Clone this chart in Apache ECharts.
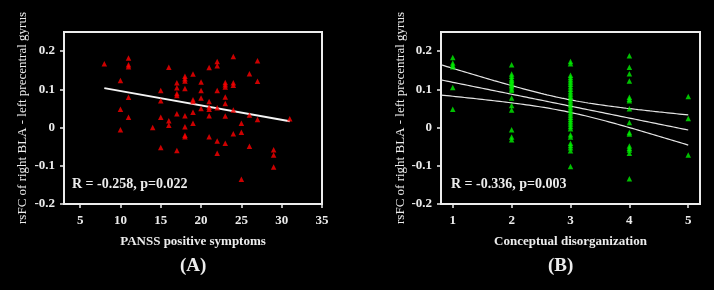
<!DOCTYPE html>
<html>
<head>
<meta charset="utf-8">
<script src="https://cdn.jsdelivr.net/npm/echarts@6/dist/echarts.min.js"></script>
<style>
  html, body { margin: 0; background: #000; }
  #chart { width: 714px; height: 290px; }
</style>
</head>
<body>
<div id="chart"></div>
<script>
// panel A: PANSS positive score vs rsFC
const panssPoints = [
  [8, 0.167], [11, 0.182], [11, 0.164], [11, 0.159], [10, 0.123], [11, 0.079], [10, 0.048], [11, 0.027], [10, -0.006],
  [14, 0.0], [15, 0.097], [15, 0.070], [15, 0.027], [15, -0.052], [16, 0.158], [16, 0.018], [16, 0.006],
  [17, 0.117], [17, 0.104], [17, 0.089], [17, 0.084], [17, 0.036], [17, -0.060],
  [18, 0.134], [18, 0.128], [18, 0.122], [18, 0.102], [18, 0.031], [18, 0.002], [18, -0.020], [18, -0.024],
  [19, 0.140], [19, 0.073], [19, 0.068], [19, 0.040], [19, 0.011],
  [20, 0.119], [20, 0.097], [20, 0.077], [20, 0.050],
  [21, 0.157], [21, 0.068], [21, 0.054], [21, 0.048], [21, 0.031], [21, -0.024],
  [22, 0.173], [22, 0.162], [22, 0.097], [22, 0.052], [22, -0.035], [22, -0.067],
  [23, 0.118], [23, 0.112], [23, 0.106], [23, 0.080], [23, 0.063], [23, 0.030], [23, -0.041],
  [24, 0.186], [24, 0.117], [24, 0.111], [24, 0.046], [24, -0.016],
  [25, 0.011], [25, -0.012], [25, -0.135],
  [26, 0.141], [26, 0.033], [26, -0.049],
  [27, 0.175], [27, 0.121], [27, 0.021],
  [29, -0.058], [29, -0.072], [29, -0.103],
  [31, 0.023]
]

// panel B: conceptual disorganization level vs rsFC
const disorgLevels = [1, 2, 3, 4, 5]
const disorgValues = [
  [0.183, 0.169, 0.163, 0.159, 0.105, 0.048],
  [0.164, 0.140, 0.134, 0.128, 0.124, 0.120, 0.115, 0.111, 0.107, 0.101, 0.097, 0.077, 0.058, 0.046, -0.006, -0.025, -0.032],
  [0.173, 0.167, 0.137, 0.131, 0.125, 0.119, 0.113, 0.107, 0.100, 0.094, 0.088, 0.082, 0.076, 0.070, 0.064, 0.058, 0.052,
   0.045, 0.039, 0.033, 0.027, 0.021, 0.015, 0.009, 0.003, -0.003, -0.019, -0.025, -0.041, -0.047, -0.053, -0.061, -0.102],
  [0.188, 0.158, 0.141, 0.122, 0.079, 0.074, 0.070, 0.049, 0.013, -0.013, -0.017, -0.048, -0.054, -0.059, -0.067, -0.134],
  [0.081, 0.024, -0.072]
]

const yTicks = [-0.2, -0.1, 0, 0.1, 0.2]
const panssTicks = [5, 10, 15, 20, 25, 30, 35]
const statsA = 'R = -0.258, p=0.022'
const statsB = 'R = -0.336, p=0.003'
const T_CRIT = 1.993 // t(0.975, df ~ 73)

const disorgPoints = []
disorgLevels.forEach((lv, i) => disorgValues[i].forEach(v => disorgPoints.push([lv, v])))

// ordinary least squares, with what we need for the CI band
const fit = pts => {
  const n = pts.length
  const mx = pts.reduce((s, p) => s + p[0], 0) / n
  const my = pts.reduce((s, p) => s + p[1], 0) / n
  let sxx = 0, sxy = 0
  pts.forEach(p => { sxx += (p[0] - mx) ** 2; sxy += (p[0] - mx) * (p[1] - my) })
  const b = sxy / sxx
  const a = my - b * mx
  let sse = 0
  pts.forEach(p => { sse += (p[1] - a - b * p[0]) ** 2 })
  const s = Math.sqrt(sse / (n - 2))
  return { n, mx, sxx, a, b, s }
}

const fitA = fit(panssPoints)
const fitB = fit(disorgPoints)

const xsA = panssPoints.map(p => p[0])
const lineA = [Math.min(...xsA), Math.max(...xsA)].map(x => [x, fitA.a + fitA.b * x])

const bandMin = 0.8, bandMax = Math.max(...disorgLevels)
const midB = [], upB = [], loB = []
for (let x = bandMin; x <= bandMax + 1e-9; x += 0.05) {
  const yh = fitB.a + fitB.b * x
  const se = fitB.s * Math.sqrt(1 / fitB.n + (x - fitB.mx) ** 2 / fitB.sxx)
  midB.push([x, yh]); upB.push([x, yh + T_CRIT * se]); loB.push([x, yh - T_CRIT * se])
}

const FONT = '"Liberation Serif", "Times New Roman", serif'
const TXT = '#ececec'

const xAxisBase = (min, max, ticks, name) => ({
  type: 'value', min, max,
  name, nameLocation: 'middle', nameGap: 31,
  nameTextStyle: { color: TXT, fontFamily: FONT, fontSize: 13, fontWeight: 'bold' },
  axisLine: { show: true, onZero: false, lineStyle: { color: TXT, width: 2 } },
  axisTick: { show: true, length: 4, customValues: ticks, lineStyle: { color: TXT, width: 1.5 } },
  axisLabel: { color: TXT, fontFamily: FONT, fontSize: 13, fontWeight: 'bold', margin: 10, customValues: ticks },
  splitLine: { show: false }
})

const yAxisBase = gap => ({
  type: 'value', min: -0.2, max: 0.25,
  name: 'rsFC of right BLA - left precentral gyrus', nameLocation: 'middle', nameGap: gap,
  nameTextStyle: { color: TXT, fontFamily: FONT, fontSize: 13 },
  axisLine: { show: true, onZero: false, lineStyle: { color: TXT, width: 2 } },
  axisTick: { show: true, length: 4, customValues: yTicks, lineStyle: { color: TXT, width: 1.5 } },
  axisLabel: {
    color: TXT, fontFamily: FONT, fontSize: 13, fontWeight: 'bold', margin: 9, customValues: yTicks,
    formatter: v => (Math.abs(v) < 1e-9 ? '0' : v.toFixed(1))
  },
  splitLine: { show: false }
})

const chart = echarts.init(document.getElementById('chart'))

chart.setOption({
  backgroundColor: '#000',
  animation: false,
  grid: [
    { left: 64, top: 32, width: 258, height: 172, show: true, borderColor: TXT, borderWidth: 2, backgroundColor: 'transparent' },
    { left: 441, top: 32, width: 259, height: 172, show: true, borderColor: TXT, borderWidth: 2, backgroundColor: 'transparent' }
  ],
  xAxis: [
    { ...xAxisBase(3, 35, panssTicks, 'PANSS positive symptoms'), gridIndex: 0 },
    { ...xAxisBase(0.8, 5.2, disorgLevels, 'Conceptual disorganization'), gridIndex: 1 }
  ],
  yAxis: [
    { ...yAxisBase(35), gridIndex: 0 },
    { ...yAxisBase(33), gridIndex: 1 }
  ],
  graphic: [
    { type: 'text', left: 72, top: 177, style: { text: statsA, fill: TXT, font: 'bold 14px ' + FONT } },
    { type: 'text', left: 451, top: 177, style: { text: statsB, fill: TXT, font: 'bold 14px ' + FONT } },
    { type: 'text', left: 180, top: 257, style: { text: '(A)', fill: TXT, font: 'bold 19px ' + FONT } },
    { type: 'text', left: 548, top: 257, style: { text: '(B)', fill: TXT, font: 'bold 19px ' + FONT } }
  ],
  series: [
    {
      type: 'line', xAxisIndex: 0, yAxisIndex: 0, data: lineA, showSymbol: false, z: 2,
      lineStyle: { color: '#f4f4f4', width: 2 }
    },
    {
      type: 'scatter', xAxisIndex: 0, yAxisIndex: 0, data: panssPoints, z: 3,
      symbol: 'triangle', symbolSize: 5.5, itemStyle: { color: '#ff0000' }
    },
    ...[upB, midB, loB].map(d => ({
      type: 'line', xAxisIndex: 1, yAxisIndex: 1, data: d, showSymbol: false, z: 2,
      lineStyle: { color: '#e6e6e6', width: 1.2 }
    })),
    {
      type: 'scatter', xAxisIndex: 1, yAxisIndex: 1, data: disorgPoints, z: 3,
      symbol: 'triangle', symbolSize: 5.5, itemStyle: { color: '#00f000' }
    }
  ]
})

window.addEventListener('resize', () => chart.resize())
</script>
</body>
</html>
